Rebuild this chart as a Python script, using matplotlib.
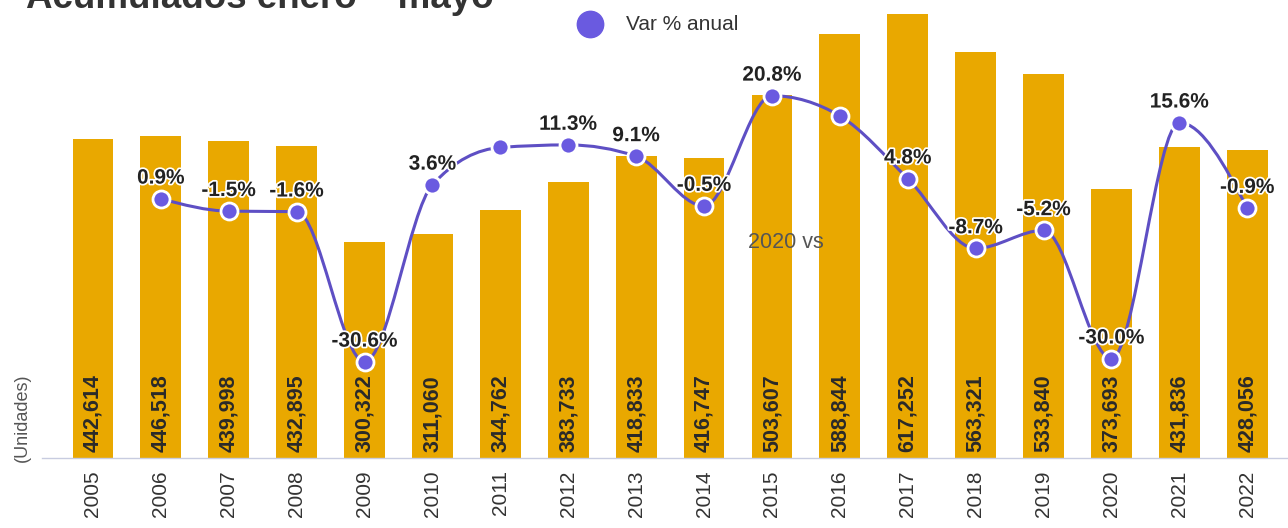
import matplotlib.pyplot as plt
from matplotlib.path import Path
from matplotlib.patches import PathPatch
import matplotlib.patheffects as pe

years = ['2005', '2006', '2007', '2008', '2009', '2010', '2011', '2012', '2013',
         '2014', '2015', '2016', '2017', '2018', '2019', '2020', '2021', '2022']
units = [442614, 446518, 439998, 432895, 300322, 311060, 344762, 383733, 418833,
         416747, 503607, 588844, 617252, 563321, 533840, 373693, 431836, 428056]
# annual variation, first year has no value
var_pct = [None, 0.9, -1.5, -1.6, -30.6, 3.6, 10.8, 11.3, 9.1,
           -0.5, 20.8, 16.9, 4.8, -8.7, -5.2, -30.0, 15.6, -0.9]
var_labels = ['', '0.9%', '-1.5%', '-1.6%', '-30.6%', '3.6%', '', '11.3%', '9.1%',
              '-0.5%', '20.8%', '', '4.8%', '-8.7%', '-5.2%', '-30.0%', '15.6%', '-0.9%']

BAR = '#E9A800'
LINE = '#5E4FC4'
DOT = '#6A5AE0'
FONT = 'Liberation Sans'


def sign(v):
    return (v > 0) - (v < 0)


fig = plt.figure(figsize=(12.88, 5.28), dpi=100)
ax = fig.add_axes([0.0326, 0.1326, 0.9674, 0.8674])
x = list(range(len(years)))
ax.bar(x, units, width=0.6, color=BAR, zorder=1)
ax.set_xlim(-0.75, 17.6)
ax.set_ylim(0, 636000)
ax.set_xticks(x)
ax.set_xticklabels(years, rotation=90, fontsize=15, color='#333333', family=FONT)
ax.tick_params(axis='x', length=0, pad=9)
ax.set_yticks([])
for s in ['top', 'right', 'left']:
    ax.spines[s].set_visible(False)
ax.spines['bottom'].set_color('#c8cce0')
ax.spines['bottom'].set_linewidth(1)

for xi, v in zip(x, units):
    ax.text(xi, 8000, f'{v:,}', rotation=90, ha='center', va='bottom',
            fontsize=15.5, fontweight='bold', color='#2a2a2a', family=FONT, zorder=2)

# percent axis
ax2 = ax.twinx()
ax2.set_ylim(-49.2, 39.3)
ax2.set_xlim(-0.75, 17.6)
ax2.axis('off')

px = [xi for xi, p in zip(x, var_pct) if p is not None]
py = [p for p in var_pct if p is not None]

# monotone cubic curve through the points
n = len(px)
sl = [(py[i + 1] - py[i]) / (px[i + 1] - px[i]) for i in range(n - 1)]
tg = [0.0] * n
for i in range(1, n - 1):
    s0, s1 = sl[i - 1], sl[i]
    p = (s0 + s1) / 2
    tg[i] = (sign(s0) + sign(s1)) * min(abs(s0), abs(s1), 0.5 * abs(p))
tg[0] = (3 * sl[0] - tg[1]) / 2
tg[-1] = (3 * sl[-1] - tg[-2]) / 2
verts = [(px[0], py[0])]
codes = [Path.MOVETO]
for i in range(n - 1):
    h = (px[i + 1] - px[i]) / 3
    verts += [(px[i] + h, py[i] + tg[i] * h),
              (px[i + 1] - h, py[i + 1] - tg[i + 1] * h),
              (px[i + 1], py[i + 1])]
    codes += [Path.CURVE4] * 3
ax2.add_patch(PathPatch(Path(verts, codes), facecolor='none', edgecolor=LINE,
                        lw=2.2, zorder=3))
ax2.scatter(px, py, s=150, color=DOT, edgecolor='white', linewidth=2, zorder=4)

for xi, p, lab in zip(x, var_pct, var_labels):
    if p is None or not lab:
        continue
    ax2.annotate(lab, (xi, p), xytext=(0, 8), textcoords='offset points',
                 ha='center', va='bottom', fontsize=15, fontweight='bold',
                 color='#222222', family=FONT, zorder=5,
                 path_effects=[pe.withStroke(linewidth=2.5, foreground='white')])

ax2.text(10.2, -7.5, '2020 vs', ha='center', va='center', fontsize=15.5,
         color='#555555', family=FONT, zorder=5)

# title (cut at top like the reference)
fig.text(0.02, 0.985, 'Acumulados enero – mayo', fontsize=26.5, fontweight='bold',
         color='#333333', family=FONT, va='baseline', ha='left')

# legend
fig.lines.append(plt.Line2D([590 / 1288], [1 - 24 / 528], marker='o', markersize=19,
                            color=DOT, transform=fig.transFigure, linestyle='none'))
fig.text(626 / 1288, 1 - 24 / 528, 'Var % anual', fontsize=15, color='#333333',
         family=FONT, va='center', ha='left')

fig.text(0.017, 0.208, '(Unidades)', rotation=90, fontsize=13, color='#555555',
         family=FONT, va='center', ha='center')

fig.savefig('out.png', dpi=100)
